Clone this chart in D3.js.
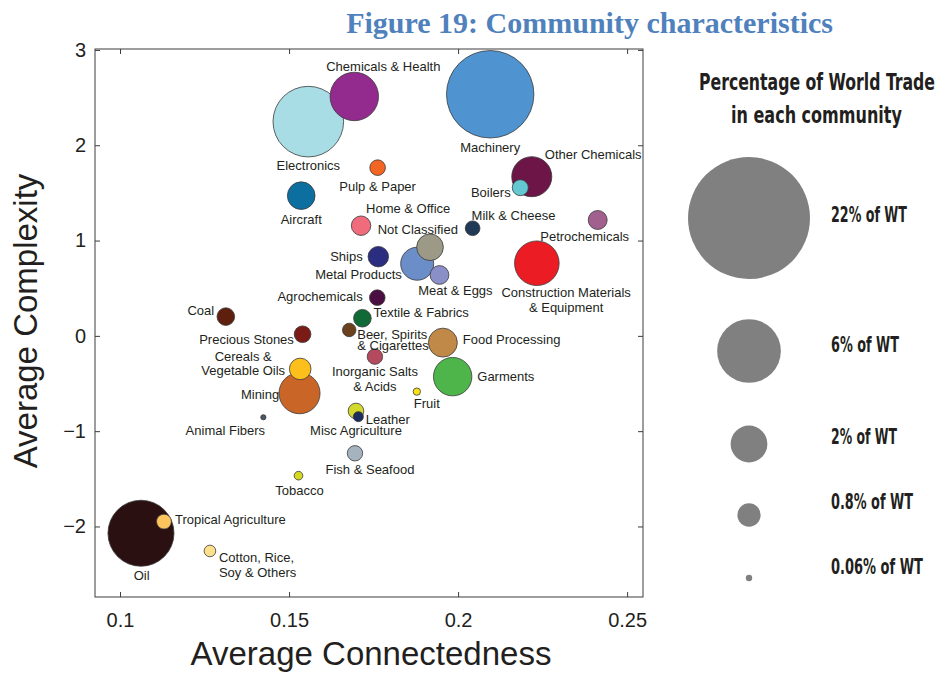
<!DOCTYPE html>
<html>
<head>
<meta charset="utf-8">
<script src="https://cdn.jsdelivr.net/npm/d3@7/dist/d3.min.js"></script>
<style>
  html, body { margin: 0; padding: 0; background: #fff; }
  svg { display: block; }
</style>
</head>
<body>
<svg id="chart" width="941" height="673"></svg>
<script>
// ---------------- DATA ----------------
const communities = [
  "Machinery","Electronics","Chemicals & Health","Other Chemicals","Boilers",
  "Petrochemicals","Milk & Cheese","Pulp & Paper","Aircraft","Home & Office",
  "Not Classified","Metal Products","Meat & Eggs","Ships","Agrochemicals",
  "Coal","Textile & Fabrics","Beer, Spirits & Cigarettes","Precious Stones","Inorganic Salts & Acids",
  "Cereals & Vegetable Oils","Mining","Food Processing","Garments","Construction Materials & Equipment",
  "Fruit","Misc Agriculture","Leather","Animal Fibers","Fish & Seafood",
  "Tobacco","Oil","Tropical Agriculture","Cotton, Rice, Soy & Others"
];
const connectedness = [
  0.2095, 0.1557, 0.1693, 0.2218, 0.2184,
  0.2413, 0.2043, 0.1762, 0.1536, 0.1713,
  0.1917, 0.1879, 0.1945, 0.1764, 0.1761,
  0.1313, 0.1717, 0.1678, 0.1540, 0.1754,
  0.1533, 0.1531, 0.1955, 0.1984, 0.2233,
  0.1878, 0.1698, 0.1705, 0.1424, 0.1695,
  0.1528, 0.1062, 0.1130, 0.1266
];
const complexity = [
  2.535, 2.248, 2.512, 1.670, 1.555,
  1.216, 1.129, 1.765, 1.471, 1.156,
  0.930, 0.757, 0.639, 0.831, 0.401,
  0.202, 0.185, 0.062, 0.017, -0.218,
  -0.347, -0.602, -0.071, -0.428, 0.762,
  -0.585, -0.788, -0.848, -0.854, -1.232,
  -1.467, -2.071, -1.949, -2.257
];
// percentage of world trade
const worldTrade = [
  11.3, 7.37, 3.47, 2.37, 0.38,
  0.53, 0.32, 0.36, 1.13, 0.56,
  1.05, 1.61, 0.52, 0.62, 0.36,
  0.46, 0.46, 0.27, 0.41, 0.35,
  0.69, 2.49, 1.24, 2.18, 2.94,
  0.08, 0.36, 0.15, 0.04, 0.35,
  0.11, 6.44, 0.33, 0.20
];
const colors = [
  "#4f94d0", "#a9dde6", "#932a8d", "#6c1546", "#63c8d2",
  "#a2608f", "#203a56", "#f26522", "#0d6f9f", "#f06b7c",
  "#9c9a86", "#6b8dc8", "#8b8fc8", "#2b2d80", "#4a0e42",
  "#5e1f0f", "#106a36", "#6b401d", "#7b1b18", "#b5495e",
  "#fdbf1b", "#c96526", "#c08947", "#4db549", "#ec1c24",
  "#f8e018", "#d3d92b", "#1d2d5d", "#4b5567", "#a5b3be",
  "#d5d81d", "#2b1011", "#fdc55e", "#fde08c"
];
const xTicks = [0.1, 0.15, 0.2, 0.25];
const yTicks = [-2, -1, 0, 1, 2, 3];
const legendValues = [22, 6, 2, 0.8, 0.06];
const legendLabels = ["22% of WT", "6% of WT", "2% of WT", "0.8% of WT", "0.06% of WT"];
const titleText = "Figure 19: Community characteristics";
const xLabel = "Average Connectedness";
const yLabel = "Average Complexity";
const legendTitle = ["Percentage of World Trade", "in each community"];

// ---------------- LAYOUT (label placement, styles) ----------------
// label lines, offset from bubble centre (px), anchor
const labelLayout = {
  "Machinery": {lines:["Machinery"], dx:0, dy:53, a:"middle"},
  "Electronics": {lines:["Electronics"], dx:0, dy:44, a:"middle"},
  "Chemicals & Health": {lines:["Chemicals & Health"], dx:29, dy:-30.5, a:"middle"},
  "Other Chemicals": {lines:["Other Chemicals"], dx:13, dy:-22, a:"start"},
  "Boilers": {lines:["Boilers"], dx:-9.6, dy:4.3, a:"end"},
  "Petrochemicals": {lines:["Petrochemicals"], dx:-13, dy:16.7, a:"middle"},
  "Milk & Cheese": {lines:["Milk & Cheese"], dx:-1, dy:-13.3, a:"start"},
  "Pulp & Paper": {lines:["Pulp & Paper"], dx:0, dy:18.5, a:"middle"},
  "Aircraft": {lines:["Aircraft"], dx:0, dy:24, a:"middle"},
  "Home & Office": {lines:["Home & Office"], dx:5, dy:-17.7, a:"start"},
  "Not Classified": {lines:["Not Classified"], dx:-52.3, dy:-17.7, a:"start"},
  "Metal Products": {lines:["Metal Products"], dx:-15.3, dy:10.8, a:"end"},
  "Meat & Eggs": {lines:["Meat & Eggs"], dx:-21.3, dy:15.7, a:"start"},
  "Ships": {lines:["Ships"], dx:-15.6, dy:0, a:"end"},
  "Agrochemicals": {lines:["Agrochemicals"], dx:-14.6, dy:-1, a:"end"},
  "Coal": {lines:["Coal"], dx:-11.7, dy:-5.7, a:"end"},
  "Textile & Fabrics": {lines:["Textile & Fabrics"], dx:11, dy:-5.6, a:"start"},
  "Beer, Spirits & Cigarettes": {lines:["Beer, Spirits","& Cigarettes"], dx:8, dy:4, a:"start", lh:11},
  "Precious Stones": {lines:["Precious Stones"], dx:-8.7, dy:5.7, a:"end"},
  "Inorganic Salts & Acids": {lines:["Inorganic Salts","& Acids"], dx:0, dy:15, a:"middle"},
  "Cereals & Vegetable Oils": {lines:["Cereals &","Vegetable Oils"], dx:-57, dy:-12.3, a:"middle", lh:14.3},
  "Mining": {lines:["Mining"], dx:-20.3, dy:1, a:"end"},
  "Food Processing": {lines:["Food Processing"], dx:20, dy:-2.7, a:"start"},
  "Garments": {lines:["Garments"], dx:24.6, dy:0, a:"start"},
  "Construction Materials & Equipment": {lines:["Construction Materials","& Equipment"], dx:29.3, dy:29.4, a:"middle"},
  "Fruit": {lines:["Fruit"], dx:10, dy:11.6, a:"middle"},
  "Misc Agriculture": {lines:["Misc Agriculture"], dx:0, dy:19.7, a:"middle"},
  "Leather": {lines:["Leather"], dx:7.4, dy:2.3, a:"start"},
  "Animal Fibers": {lines:["Animal Fibers"], dx:-38, dy:13.4, a:"middle"},
  "Fish & Seafood": {lines:["Fish & Seafood"], dx:15, dy:15.7, a:"middle"},
  "Tobacco": {lines:["Tobacco"], dx:1, dy:15, a:"middle"},
  "Oil": {lines:["Oil"], dx:0.7, dy:42.7, a:"middle"},
  "Tropical Agriculture": {lines:["Tropical Agriculture"], dx:11, dy:-1.7, a:"start"},
  "Cotton, Rice, Soy & Others": {lines:["Cotton, Rice,","Soy & Others"], dx:9, dy:6.7, a:"start", lh:14.6}
};

const textColor = "#231f20";
const labelFont = "'Liberation Sans', Arial, Helvetica, sans-serif";
const svg = d3.select("#chart");

const frame = {left: 95, right: 643, top: 49, bottom: 597};
const x = d3.scaleLinear().domain([0.0926, 0.2547]).range([frame.left, frame.right]);
const y = d3.scaleLinear().domain([-2.74, 3.01]).range([frame.bottom, frame.top]);
const r = d3.scaleSqrt().domain([0, 22]).range([0, 61]);

// ---------------- Title ----------------
svg.append("text")
  .attr("x", 833).attr("y", 33)
  .attr("text-anchor", "end")
  .attr("font-family", "'Liberation Serif', 'Times New Roman', serif")
  .attr("font-weight", "bold")
  .attr("font-size", 30)
  .attr("fill", "#4f81bd")
  .text(titleText);

// ---------------- Bubbles ----------------
const data = communities.map((name, i) => ({
  name, cx: connectedness[i], cy: complexity[i], wt: worldTrade[i], color: colors[i]
}));
const drawOrder = data.slice().sort((a, b) => b.wt - a.wt);

const gPlot = svg.append("g");
gPlot.selectAll("circle.bubble")
  .data(drawOrder)
  .join("circle")
  .attr("class", "bubble")
  .attr("cx", d => x(d.cx))
  .attr("cy", d => y(d.cy))
  .attr("r", d => r(d.wt))
  .attr("fill", d => d.color)
  .attr("stroke", "#3a3a3a")
  .attr("stroke-width", 0.8);

// ---------------- Labels ----------------
const gLab = svg.append("g")
  .attr("font-family", labelFont)
  .attr("font-size", 13)
  .attr("fill", textColor);
data.forEach(d => {
  const L = labelLayout[d.name];
  if (!L) return;
  const lh = L.lh || 15;
  L.lines.forEach((line, k) => {
    gLab.append("text")
      .attr("x", x(d.cx) + L.dx)
      .attr("y", y(d.cy) + L.dy + k * lh)
      .attr("dy", "0.35em")
      .attr("text-anchor", L.a)
      .text(line);
  });
});

// ---------------- Axes ----------------
const axisColor = "#3c3c3c";
const styleAxis = g => {
  g.selectAll(".domain").remove();
  g.selectAll(".tick line").attr("stroke", axisColor);
  g.selectAll(".tick text")
    .attr("fill", textColor)
    .attr("font-family", labelFont)
    .attr("font-size", 20);
};

svg.append("g")
  .attr("transform", `translate(0,${frame.bottom})`)
  .call(d3.axisBottom(x).tickValues(xTicks).tickSize(-5).tickPadding(16).tickFormat(d => String(d)))
  .call(styleAxis);
svg.append("g")
  .attr("transform", `translate(0,${frame.top})`)
  .call(d3.axisTop(x).tickValues(xTicks).tickSize(-5).tickFormat(""))
  .call(styleAxis);
svg.append("g")
  .attr("transform", `translate(${frame.left},0)`)
  .call(d3.axisLeft(y).tickValues(yTicks).tickSize(-5).tickPadding(9).tickFormat(d3.format("d")))
  .call(styleAxis);
svg.append("g")
  .attr("transform", `translate(${frame.right},0)`)
  .call(d3.axisRight(y).tickValues(yTicks).tickSize(-5).tickFormat(""))
  .call(styleAxis);

svg.append("rect")
  .attr("x", frame.left).attr("y", frame.top)
  .attr("width", frame.right - frame.left).attr("height", frame.bottom - frame.top)
  .attr("fill", "none").attr("stroke", axisColor).attr("stroke-width", 1);

// axis titles
svg.append("text")
  .attr("x", 371).attr("y", 665)
  .attr("text-anchor", "middle")
  .attr("font-family", labelFont).attr("font-size", 33)
  .attr("fill", textColor)
  .text(xLabel);
svg.append("text")
  .attr("transform", "translate(37,321) rotate(-90)")
  .attr("text-anchor", "middle")
  .attr("font-family", labelFont).attr("font-size", 33)
  .attr("fill", textColor)
  .text(yLabel);

// ---------------- Legend ----------------
const legFont = "'DejaVu Sans Condensed', 'Liberation Sans Narrow', 'DejaVu Sans', sans-serif";
const gLeg = svg.append("g").attr("fill", textColor).attr("font-family", legFont).attr("font-weight", "bold");

// fit a text to a target width (via font size) and a target cap height (via vertical scale)
function fitText(sel, px, py, targetW, capH) {
  sel.attr("font-size", 20);
  const w = sel.node().getComputedTextLength();
  const fs = 20 * targetW / w;
  const sy = capH / (0.73 * fs);
  sel.attr("font-size", fs)
     .attr("transform", `translate(${px},${py}) scale(1,${sy})`);
}

const titleSpec = [{x: 699, y: 90, w: 236, cap: 17}, {x: 731, y: 123, w: 171, cap: 17}];
legendTitle.forEach((t, i) => {
  const s = gLeg.append("text").attr("x", 0).attr("y", 0).text(t);
  fitText(s, titleSpec[i].x, titleSpec[i].y, titleSpec[i].w, titleSpec[i].cap);
});
const legCy = [218, 351, 444, 515, 578];
const legTy = [222, 351.5, 443.5, 508.5, 573.5];
const legTw = [76, 68, 66, 82, 92];
legendValues.forEach((v, i) => {
  gLeg.append("circle")
    .attr("cx", 749).attr("cy", legCy[i])
    .attr("r", r(v))
    .attr("fill", "#808080");
  const s = gLeg.append("text").attr("x", 0).attr("y", 0).text(legendLabels[i]);
  fitText(s, 831, legTy[i], legTw[i], 15);
});
</script>
</body>
</html>
